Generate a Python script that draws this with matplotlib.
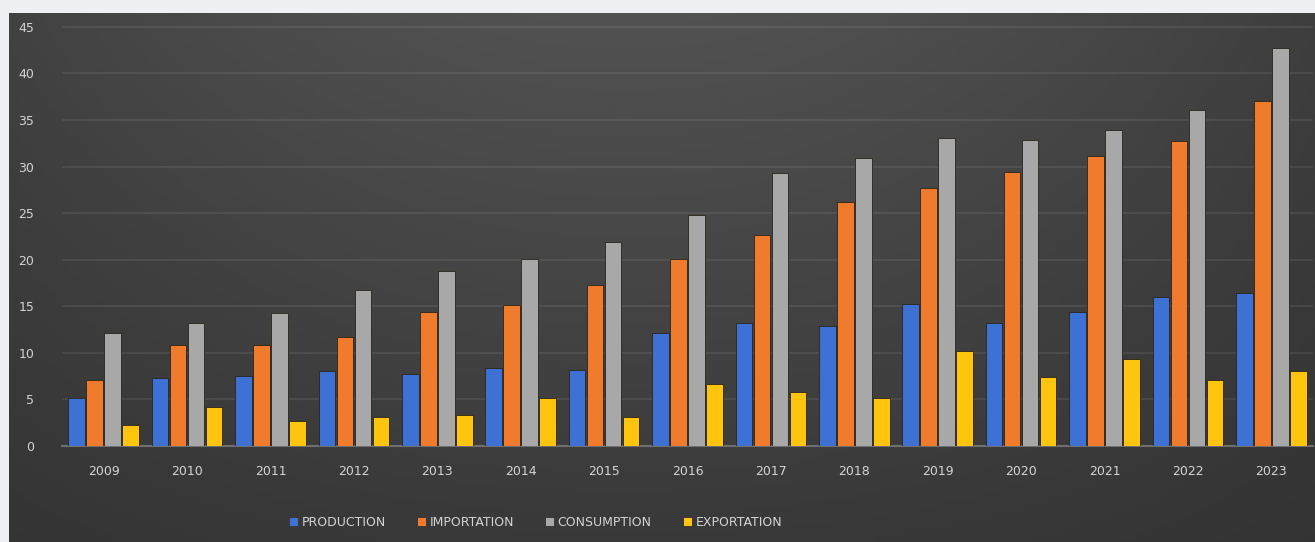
import numpy as np
import matplotlib
matplotlib.use("Agg")
import matplotlib.pyplot as plt
from matplotlib.patches import Patch

years = ["2009", "2010", "2011", "2012", "2013", "2014", "2015", "2016",
         "2017", "2018", "2019", "2020", "2021", "2022", "2023"]
production = [5.1, 7.3, 7.5, 8.1, 7.7, 8.35, 8.2, 12.1, 13.25, 12.9, 15.25, 13.25, 14.35, 15.95, 16.4]
importation = [7.1, 10.85, 10.85, 11.75, 14.4, 15.1, 17.3, 20.1, 22.6, 26.2, 27.7, 29.4, 31.15, 32.7, 37.0]
consumption = [12.1, 13.25, 14.25, 16.8, 18.8, 20.1, 21.9, 24.8, 29.3, 30.9, 33.1, 32.9, 33.9, 36.1, 42.7]
exportation = [2.25, 4.15, 2.7, 3.1, 3.3, 5.1, 3.1, 6.65, 5.85, 5.1, 10.2, 7.45, 9.35, 7.1, 8.05]
series_names = ["PRODUCTION", "IMPORTATION", "CONSUMPTION", "EXPORTATION"]
yticks = [0, 5, 10, 15, 20, 25, 30, 35, 40, 45]

colors = ["#3d71d4", "#f07b2c", "#a8a8a8", "#fec40e"]
W, H = 1315, 542
fig = plt.figure(figsize=(W / 100, H / 100), dpi=100)
fig.patch.set_facecolor("#eef0f3")

# dark gradient panel (decoration)
bg = fig.add_axes([9 / W, 0, 1 - 9 / W, 1 - 13 / H])
bg.set_axis_off()
nx, ny = 300, 120
xf = np.linspace(0, 1, nx)[None, :]
yf = np.linspace(0, 1, ny)[:, None]  # 0 top, 1 bottom
val = 0.2 + 0.09 * np.sin(np.pi * np.clip(xf * 0.85 + 0.1, 0, 1)) * (1 - 0.75 * yf) + 0.03 * (1 - yf)
img = np.dstack([val, val, val])
bg.imshow(img, aspect="auto", extent=[0, 1, 0, 1], origin="upper")
bg.set_xlim(0, 1)
bg.set_ylim(0, 1)

ax = fig.add_axes([62 / W, 96 / H, 1251 / W, 421 / H])
ax.set_facecolor("none")
x = np.arange(len(years))
step = 0.216
width = 0.2
data = [production, importation, consumption, exportation]
for k, (vals, c, name) in enumerate(zip(data, colors, series_names)):
    ax.bar(x + (k - 1.5) * step, vals, width=width, color=c, label=name, zorder=3,
           edgecolor="#2a2418", linewidth=0.6)

ax.set_xlim(-0.5, len(years) - 0.5)
ax.set_ylim(0, 45.2)
ax.set_yticks(yticks)
ax.set_yticklabels([str(t) for t in yticks])
ax.set_xticks(x)
ax.set_xticklabels(years)
ax.grid(axis="y", color="#ffffff", alpha=0.09, linewidth=1.2, zorder=0)
ax.set_axisbelow(True)
for s in ["top", "right", "left"]:
    ax.spines[s].set_visible(False)
ax.spines["bottom"].set_color("#707070")
ax.spines["bottom"].set_linewidth(1.5)
ax.tick_params(axis="both", length=0, colors="#d4d4d4", labelsize=9)
ax.tick_params(axis="y", pad=20)
ax.tick_params(axis="x", pad=14)

handles = [Patch(facecolor=c, edgecolor="none") for c in colors]
leg = fig.legend(handles, series_names, loc="center", bbox_to_anchor=(536 / W, 1 - 523 / H),
                 ncol=4, frameon=False, fontsize=9, handlelength=0.6, handleheight=0.6,
                 handletextpad=0.3, columnspacing=2.6)
for t in leg.get_texts():
    t.set_color("#d4d4d4")

fig.savefig("out.png", dpi=100, facecolor=fig.get_facecolor())
